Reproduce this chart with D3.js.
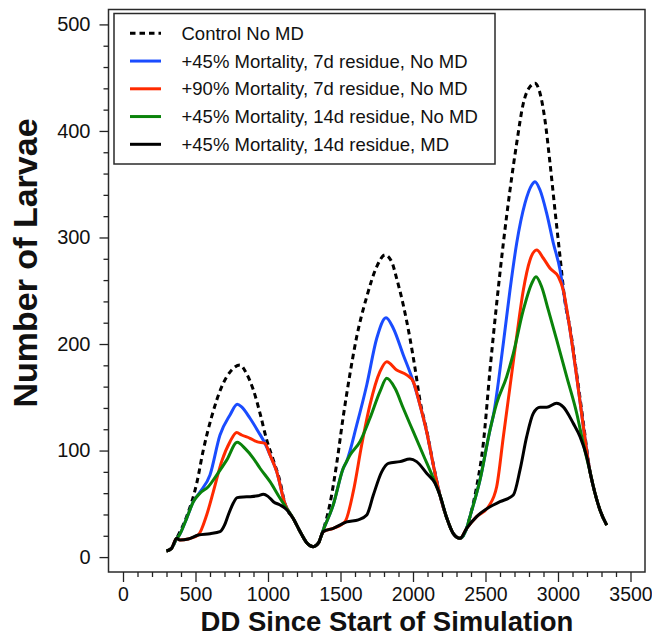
<!DOCTYPE html>
<html>
<head>
<meta charset="utf-8">
<script src="https://cdn.jsdelivr.net/npm/d3@7"></script>
<style>
  body { margin: 0; background: #fff; }
  svg text { font-family: "Liberation Sans", Arial, Helvetica, sans-serif; fill: #111; }
</style>
</head>
<body>
<svg id="chart" width="652" height="637"></svg>
<script>
// ---- data: larvae counts by degree-days since start of simulation ----
const seriesNames = [
  "Control No MD",
  "+45% Mortality, 7d residue, No MD",
  "+90% Mortality, 7d residue, No MD",
  "+45% Mortality, 14d residue, No MD",
  "+45% Mortality, 14d residue, MD"
];

const ddControl = [300, 335, 370, 439, 508, 554, 612, 681, 750, 806, 851, 899, 945, 991, 1037, 1083, 1117, 1175, 1221, 1270, 1313, 1347, 1381, 1428, 1474, 1519, 1566, 1612, 1681, 1750, 1807, 1853, 1887, 1933, 1979, 2014, 2048, 2094, 2140, 2186, 2232, 2278, 2324, 2370, 2393, 2439, 2485, 2531, 2577, 2623, 2669, 2715, 2761, 2807, 2841, 2876, 2910, 2945, 2979, 3014, 3048, 3083, 3129, 3175, 3221, 3244, 3290, 3336];
const larvaeControl = [5.7, 8.2, 17.6, 38, 69, 100.5, 132, 160, 175.6, 180.3, 172.5, 156.9, 135, 110, 91, 71, 50, 36, 24, 13, 9.8, 13, 25.4, 50.5, 88, 132, 172.5, 207, 244.4, 272.6, 283.6, 277.3, 261.7, 236.6, 205.4, 177.2, 147, 119, 87, 58, 37, 22, 17.6, 27, 38, 66, 106.8, 175.6, 238, 294.6, 344.6, 388.4, 426, 441.6, 444.7, 435.4, 410.3, 369.7, 325.8, 282, 240, 215, 172, 126, 80, 66, 44, 30];

const ddMort45r7 = [300, 335, 370, 381, 439, 485, 531, 600, 669, 738, 788, 818, 876, 933, 979, 1014, 1060, 1117, 1175, 1221, 1270, 1313, 1347, 1381, 1450, 1519, 1543, 1612, 1681, 1750, 1814, 1864, 1933, 2002, 2048, 2094, 2140, 2186, 2232, 2278, 2324, 2370, 2393, 2462, 2531, 2554, 2623, 2669, 2715, 2772, 2819, 2841, 2876, 2922, 2968, 3014, 3036, 3083, 3129, 3175, 3221, 3244, 3290, 3336];
const larvaeMort45r7 = [5.7, 8.2, 17.6, 19, 36.4, 52, 61, 77, 114.6, 133.4, 143.4, 141, 130.3, 117.7, 106.8, 95.8, 80.2, 50, 36, 24, 13, 9.8, 13, 25.4, 49, 83.4, 90, 124, 161.5, 205.4, 224.7, 214.8, 189.7, 164.6, 142.8, 117.7, 86.5, 58, 37, 22, 17.6, 27, 38, 72.4, 119.3, 133, 200.7, 250.7, 294.6, 332, 349.3, 352.4, 344.6, 322.7, 294.6, 269.5, 250.7, 213.2, 169.3, 122.4, 80, 66, 44, 30];

const ddMort90r7 = [300, 335, 370, 393, 450, 519, 577, 623, 680, 738, 784, 818, 876, 922, 979, 1014, 1060, 1117, 1175, 1221, 1270, 1313, 1347, 1381, 1450, 1531, 1588, 1646, 1703, 1772, 1819, 1887, 1956, 2002, 2048, 2094, 2140, 2186, 2232, 2278, 2324, 2370, 2439, 2520, 2577, 2623, 2669, 2715, 2761, 2807, 2853, 2899, 2945, 3002, 3036, 3083, 3129, 3175, 3221, 3244, 3290, 3336];
const larvaeMort90r7 = [5.7, 8.2, 17.6, 16, 17, 20.7, 39.5, 61.4, 89.6, 108.3, 117, 114.6, 111.5, 108.3, 106.8, 95.8, 80.2, 50, 36, 24, 13, 9.8, 13, 23.9, 27, 33.2, 61.4, 105.2, 142.8, 174, 183.4, 175.6, 171, 164.6, 142.8, 117.7, 86.5, 58, 37, 22, 17.6, 27, 38, 47.3, 66, 113, 160, 207, 250.7, 278.9, 288.3, 280.5, 271.1, 263.2, 250.7, 213.2, 169.3, 122.4, 80, 66, 44, 30];

const ddMort45r14 = [300, 335, 370, 381, 439, 485, 531, 588, 646, 715, 788, 841, 899, 945, 1014, 1083, 1117, 1175, 1221, 1270, 1313, 1347, 1381, 1450, 1519, 1543, 1566, 1634, 1703, 1772, 1819, 1876, 1933, 2002, 2071, 2140, 2186, 2232, 2278, 2324, 2370, 2393, 2462, 2531, 2577, 2646, 2692, 2761, 2819, 2848, 2887, 2933, 2991, 3060, 3129, 3175, 3221, 3244, 3290, 3336];
const larvaeMort45r14 = [5.7, 8.2, 17.6, 19, 36.4, 52, 60, 66, 77, 91, 107.8, 102, 92.7, 83.4, 70.8, 55.2, 48, 36, 24, 13, 9.8, 13, 25.4, 49, 83.4, 90, 95.8, 108.3, 130.3, 155.3, 167.8, 158.4, 139.7, 117.7, 95.8, 74, 58, 37, 22, 17.6, 27, 38, 72.4, 119.3, 144.3, 169.3, 191.3, 232, 257, 263.2, 253.8, 232, 203.8, 169.3, 135, 106, 80, 66, 44, 30];

const ddMort45r14MD = [300, 335, 370, 393, 450, 519, 600, 669, 700, 726, 760, 788, 830, 876, 930, 968, 1000, 1037, 1083, 1117, 1175, 1221, 1270, 1313, 1347, 1381, 1450, 1543, 1623, 1681, 1726, 1784, 1830, 1910, 1979, 2025, 2094, 2152, 2186, 2232, 2278, 2324, 2370, 2439, 2531, 2600, 2692, 2738, 2784, 2830, 2876, 2922, 2990, 3036, 3105, 3152, 3198, 3221, 3244, 3290, 3336];
const larvaeMort45r14MD = [5.7, 8.2, 17.6, 16, 17, 20.7, 22, 23.9, 30, 39.5, 50.5, 55.8, 56.5, 56.7, 57.5, 58.9, 57, 52, 48.9, 46, 36, 24, 13, 9.8, 13, 23.9, 27, 33, 35, 39.5, 58, 80, 88, 89.6, 92, 89.6, 78.7, 69.3, 58, 37, 22, 17.6, 27, 38, 47.3, 52, 58.3, 81.8, 113, 135, 140.6, 140.6, 144.3, 141, 125.6, 113, 94.2, 80, 66, 44, 30];

const yTickValues = [0, 100, 200, 300, 400, 500];
const xTickValues = [0, 500, 1000, 1500, 2000, 2500, 3000, 3500];

// ---- series table (drawing order: control first, MD last) ----
const series = [
  { name: seriesNames[0], dd: ddControl,     larvae: larvaeControl },
  { name: seriesNames[1], dd: ddMort45r7,    larvae: larvaeMort45r7 },
  { name: seriesNames[2], dd: ddMort90r7,    larvae: larvaeMort90r7 },
  { name: seriesNames[3], dd: ddMort45r14,   larvae: larvaeMort45r14 },
  { name: seriesNames[4], dd: ddMort45r14MD, larvae: larvaeMort45r14MD }
];
const styles = [
  { color: "#000000", dash: "5.5,4" },
  { color: "#1a4cff", dash: null },
  { color: "#ff2a00", dash: null },
  { color: "#0a830a", dash: null },
  { color: "#000000", dash: null }
];

// ---- layout ----
const svg = d3.select("#chart");
const plot = { left: 108.5, top: 9.5, right: 645, bottom: 572 };

const x = d3.scaleLinear().domain([-100, 3600]).range([plot.left, plot.right]);
const y = d3.scaleLinear().domain([-14, 514]).range([plot.bottom, plot.top]);

// ---- curves ----
const line = d3.line()
  .x(d => x(d[0]))
  .y(d => y(d[1]))
  .curve(d3.curveMonotoneX);

const curves = svg.append("g").attr("class", "curves");
series.forEach((s, i) => {
  const pts = s.dd.map((d, k) => [d, s.larvae[k]]);
  curves.append("path")
    .datum(pts)
    .attr("d", line)
    .attr("fill", "none")
    .attr("stroke", styles[i].color)
    .attr("stroke-width", 3)
    .attr("stroke-linejoin", "round")
    .attr("stroke-dasharray", styles[i].dash);
});

// ---- frame ----
svg.append("rect")
  .attr("x", plot.left).attr("y", plot.top)
  .attr("width", plot.right - plot.left).attr("height", plot.bottom - plot.top)
  .attr("fill", "none").attr("stroke", "#2a2a2a").attr("stroke-width", 1.5);

// ---- axes ----
function styleAxis(size) {
  return g => {
    g.select(".domain").remove();
    g.selectAll(".tick line").attr("stroke", "#222").attr("stroke-width", 1.3);
    g.selectAll(".tick text")
      .attr("font-size", size)
      .attr("fill", "#111")
      .attr("font-family", "'Liberation Sans', Arial, Helvetica, sans-serif");
  };
}

const yMinor = d3.range(0, 501, 20).filter(v => v % 100 !== 0);
const xMinor = d3.range(0, 3501, 100).filter(v => v % 500 !== 0);

svg.append("g")
  .attr("transform", `translate(${plot.left},0)`)
  .call(d3.axisLeft(y).tickValues(yMinor).tickSize(5).tickFormat(""))
  .call(styleAxis(20));
svg.append("g")
  .attr("transform", `translate(${plot.left},0)`)
  .call(d3.axisLeft(y).tickValues(yTickValues).tickSize(9).tickPadding(9).tickFormat(d3.format("d")))
  .call(styleAxis(20));

svg.append("g")
  .attr("transform", `translate(0,${plot.bottom})`)
  .call(d3.axisBottom(x).tickValues(xMinor).tickSize(5).tickFormat(""))
  .call(styleAxis(19.5));
svg.append("g")
  .attr("transform", `translate(0,${plot.bottom})`)
  .call(d3.axisBottom(x).tickValues(xTickValues).tickSize(10).tickPadding(5).tickFormat(d3.format("d")))
  .call(styleAxis(19.5));

// ---- axis titles ----
svg.append("text")
  .attr("x", 387).attr("y", 631)
  .attr("text-anchor", "middle")
  .attr("font-size", 27.5).attr("font-weight", "bold")
  .text("DD Since Start of Simulation");

svg.append("text")
  .attr("transform", "translate(37,263) rotate(-90)")
  .attr("text-anchor", "middle")
  .attr("font-size", 34).attr("font-weight", "bold")
  .text("Number of Larvae");

// ---- legend ----
const legend = svg.append("g").attr("class", "legend");
legend.append("rect")
  .attr("x", 114).attr("y", 13.5).attr("width", 381).attr("height", 150.5)
  .attr("fill", "#fff").attr("stroke", "#2a2a2a").attr("stroke-width", 1.5);

seriesNames.forEach((name, i) => {
  const yy = 33.3 + i * 27.75;
  legend.append("line")
    .attr("x1", 130).attr("x2", 161).attr("y1", yy).attr("y2", yy)
    .attr("stroke", styles[i].color).attr("stroke-width", 3)
    .attr("stroke-dasharray", styles[i].dash);
  legend.append("text")
    .attr("x", 181.5).attr("y", yy).attr("dy", "0.35em")
    .attr("font-size", 18.5)
    .text(name);
});
</script>
</body>
</html>
